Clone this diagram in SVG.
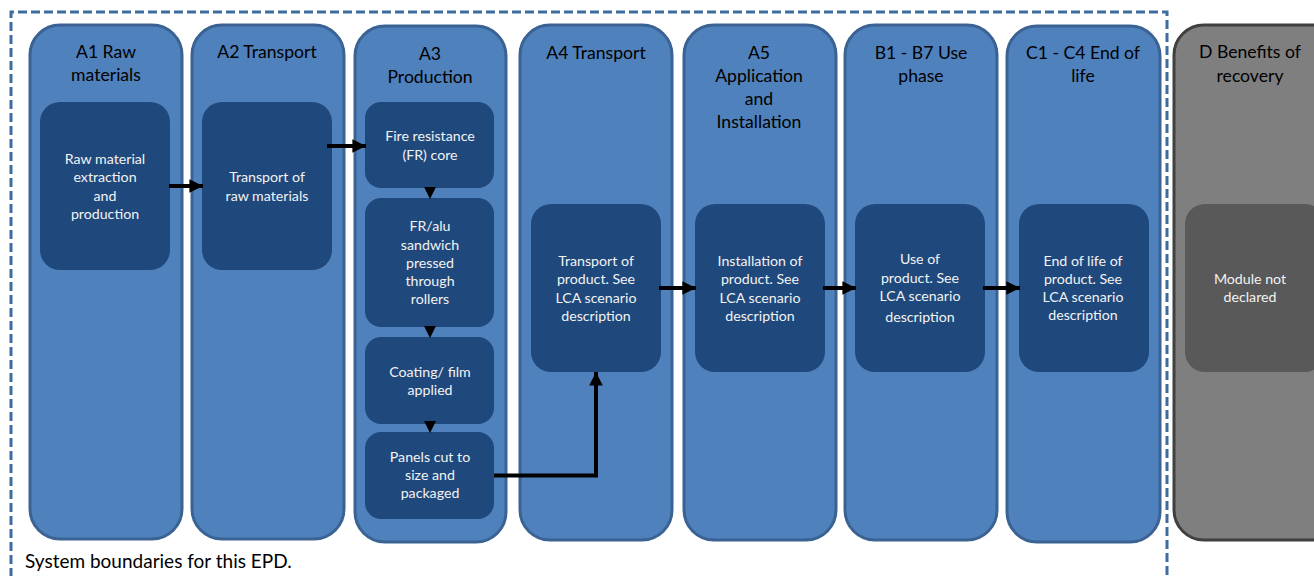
<svg xmlns="http://www.w3.org/2000/svg" width="1314" height="576" viewBox="0 0 1314 576">
<defs>
<style>
.col{fill:#4f81bd;stroke:#3a6293;stroke-width:3}
.colg{fill:#7f7f7f;stroke:#404040;stroke-width:3}
.box{fill:#1f497d}
.boxg{fill:#595959}
.t{font-family:Lato,"Liberation Sans",sans-serif;font-size:17.6px;fill:#000;text-anchor:middle}
.i{font-family:Lato,"Liberation Sans",sans-serif;font-size:14.2px;fill:#f2f2f2;text-anchor:middle}
.f{font-family:Lato,"Liberation Sans",sans-serif;font-size:19px;fill:#000}
.ln{fill:none;stroke:#000;stroke-width:4}
</style>
<marker id="ah" viewBox="0 0 10 10" refX="10" refY="5" markerWidth="3.4" markerHeight="3.6" orient="auto" markerUnits="strokeWidth">
<path d="M0,0 L10,5 L0,10 z" fill="#000"/>
</marker>
</defs>
<rect width="1314" height="576" fill="#fff"/>
<path d="M11,590 L11,12 L1167,12 L1167,590" fill="none" stroke="#3f6c9e" stroke-width="3" stroke-dasharray="9,4"/>

<g id="A1">
<rect class="col" x="30" y="25" width="152" height="514" rx="30"/>
<text class="t" x="106" y="58">A1 Raw</text>
<text class="t" x="106" y="81">materials</text>
<rect class="box" x="40" y="102" width="130" height="168" rx="20"/>
<text class="i" x="105" y="164">Raw material</text>
<text class="i" x="105" y="182">extraction</text>
<text class="i" x="105" y="201">and</text>
<text class="i" x="105" y="219">production</text>
</g>

<g id="A2">
<rect class="col" x="192" y="25" width="152" height="514" rx="30"/>
<text class="t" x="267" y="58">A2 Transport</text>
<rect class="box" x="202" y="102" width="130" height="168" rx="20"/>
<text class="i" x="267" y="182">Transport of</text>
<text class="i" x="267" y="201">raw materials</text>
</g>

<g id="A3">
<rect class="col" x="355" y="26" width="151" height="516" rx="30"/>
<text class="t" x="430" y="60">A3</text>
<text class="t" x="430" y="83">Production</text>
<g id="A3-1">
<rect class="box" x="365" y="102" width="129" height="86" rx="16"/>
<text class="i" x="430" y="141">Fire resistance</text>
<text class="i" x="430" y="160">(FR) core</text>
</g>
<g id="A3-2">
<rect class="box" x="365" y="198" width="129" height="129" rx="16"/>
<text class="i" x="430" y="231">FR/alu</text>
<text class="i" x="430" y="249.5">sandwich</text>
<text class="i" x="430" y="268">pressed</text>
<text class="i" x="430" y="286">through</text>
<text class="i" x="430" y="304">rollers</text>
</g>
<g id="A3-3">
<rect class="box" x="365" y="337" width="129" height="87" rx="16"/>
<text class="i" x="430" y="377">Coating/ film</text>
<text class="i" x="430" y="394.5">applied</text>
</g>
<g id="A3-4">
<rect class="box" x="365" y="432" width="129" height="87" rx="16"/>
<text class="i" x="430" y="462">Panels cut to</text>
<text class="i" x="430" y="480">size and</text>
<text class="i" x="430" y="498">packaged</text>
</g>
</g>

<g id="A4">
<rect class="col" x="520" y="25" width="152" height="515" rx="30"/>
<text class="t" x="596" y="58.5">A4 Transport</text>
<rect class="box" x="531" y="204" width="130" height="168" rx="20"/>
<text class="i" x="596" y="266">Transport of</text>
<text class="i" x="596" y="284">product. See</text>
<text class="i" x="596" y="302.5">LCA scenario</text>
<text class="i" x="596" y="320.5">description</text>
</g>

<g id="A5">
<rect class="col" x="684" y="25" width="152" height="515" rx="30"/>
<text class="t" x="759" y="58.5">A5</text>
<text class="t" x="759" y="81.5">Application</text>
<text class="t" x="759" y="104.5">and</text>
<text class="t" x="759" y="127.5">Installation</text>
<rect class="box" x="695" y="204" width="130" height="168" rx="20"/>
<text class="i" x="760" y="266">Installation of</text>
<text class="i" x="760" y="284">product. See</text>
<text class="i" x="760" y="302.5">LCA scenario</text>
<text class="i" x="760" y="320.5">description</text>
</g>

<g id="B1-B7">
<rect class="col" x="845" y="25" width="152" height="515" rx="30"/>
<text class="t" x="921" y="58.5">B1 - B7 Use</text>
<text class="t" x="921" y="81.5">phase</text>
<rect class="box" x="855" y="204" width="130" height="168" rx="20"/>
<text class="i" x="920" y="264">Use of</text>
<text class="i" x="920" y="283">product. See</text>
<text class="i" x="920" y="301">LCA scenario</text>
<text class="i" x="920" y="321.5">description</text>
</g>

<g id="C1-C4">
<rect class="col" x="1007" y="26" width="153" height="516" rx="30"/>
<text class="t" x="1083" y="58.5">C1 - C4 End of</text>
<text class="t" x="1083" y="82">life</text>
<rect class="box" x="1019" y="204" width="130" height="168" rx="20"/>
<text class="i" x="1083" y="266">End of life of</text>
<text class="i" x="1083" y="284">product. See</text>
<text class="i" x="1083" y="302">LCA scenario</text>
<text class="i" x="1083" y="320">description</text>
</g>

<g id="D">
<rect class="colg" x="1174" y="25" width="170" height="515" rx="30"/>
<text class="t" x="1250" y="58">D Benefits of</text>
<text class="t" x="1250" y="82">recovery</text>
<rect class="boxg" x="1185" y="204" width="140" height="168" rx="20"/>
<text class="i" x="1250" y="284">Module not</text>
<text class="i" x="1250" y="302">declared</text>
</g>

<g id="connectors">
<line class="ln" x1="169" y1="186" x2="203" y2="186" marker-end="url(#ah)"/>
<line class="ln" x1="327" y1="146" x2="366" y2="146" marker-end="url(#ah)"/>
<path d="M424,187 L436,187 L430,199 z" fill="#000"/>
<path d="M424,326 L436,326 L430,338 z" fill="#000"/>
<path d="M424,421 L436,421 L430,433 z" fill="#000"/>
<polyline class="ln" points="494,475.5 596,475.5 596,372" marker-end="url(#ah)"/>
<line class="ln" x1="659" y1="288" x2="696" y2="288" marker-end="url(#ah)"/>
<line class="ln" x1="823" y1="288" x2="856" y2="288" marker-end="url(#ah)"/>
<line class="ln" x1="983" y1="288" x2="1020" y2="288" marker-end="url(#ah)"/>
</g>

<text class="f" x="25" y="568">System boundaries for this EPD.</text>
</svg>
